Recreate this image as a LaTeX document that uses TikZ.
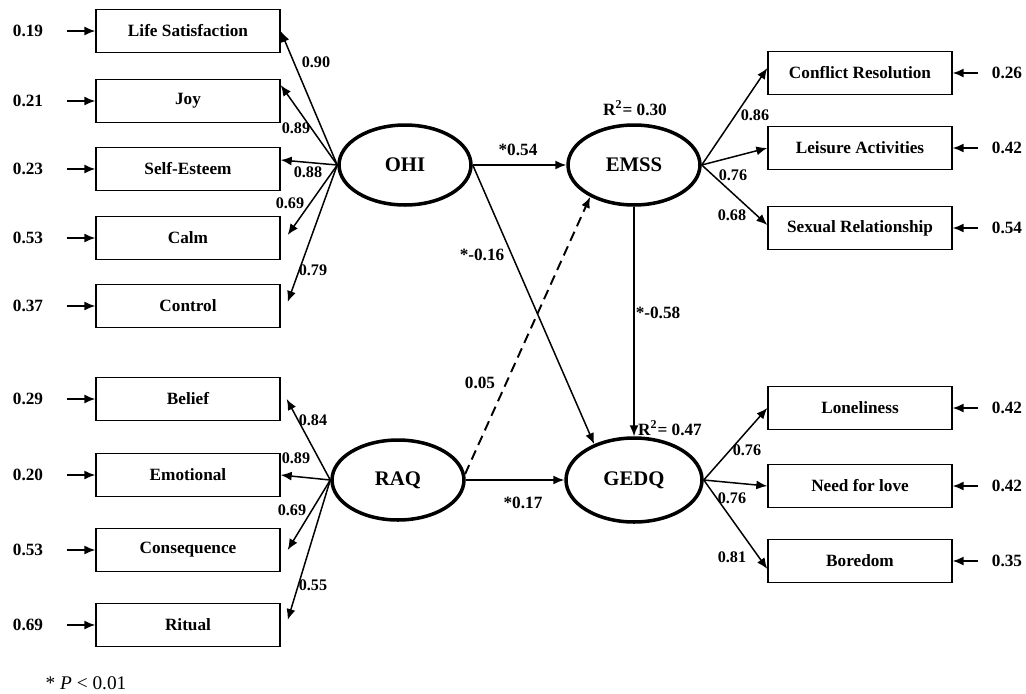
\documentclass[tikz,border=0pt]{standalone}
\usepackage{fontspec}
\setmainfont{Liberation Serif}
\usetikzlibrary{shapes.geometric,arrows.meta}

\begin{document}
\begin{tikzpicture}[x=0.02cm,y=-0.02cm,
	every node/.style={font=\bfseries\fontsize{9.8}{11}\selectfont},
	item/.style={draw,line width=0.8pt,minimum width=3.68cm,minimum height=0.85cm,inner sep=0pt},
	factor/.style={draw,ellipse,line width=2pt,minimum width=2.64cm,minimum height=1.6cm,inner sep=0pt,font=\bfseries\fontsize{11.8}{13}\selectfont},
	coef/.style={inner sep=0pt,font=\bfseries\fontsize{9.2}{10}\selectfont},
	err/.style={inner sep=0pt},
	load/.style={line width=0.85pt,-{Latex[length=0.22cm,width=0.18cm]}},
	errarrow/.style={load,shorten <=0.48cm},
	rerrarrow/.style={load,shorten <=0.28cm}]
	\useasboundingbox (0,0) rectangle (1026,693);
	% observed variables
	\node[item] (life) at (188,31) {Life Satisfaction};
	\node[item] (joy) at (188,101) {Joy};
	\node[item] (esteem) at (188,169) {Self-Esteem};
	\node[item] (calm) at (188,238) {Calm};
	\node[item] (control) at (188,306) {Control};
	\node[item] (belief) at (188,399) {Belief};
	\node[item] (emotional) at (188,475) {Emotional};
	\node[item] (consequence) at (188,550) {Consequence};
	\node[item] (ritual) at (188,625) {Ritual};
	\node[item] (conflict) at (860,73) {Conflict Resolution};
	\node[item] (leisure) at (860,148) {Leisure Activities};
	\node[item] (sexual) at (860,228) {Sexual Relationship};
	\node[item] (loneliness) at (860,408) {Loneliness};
	\node[item] (needlove) at (860,486) {Need for love};
	\node[item] (boredom) at (860,561) {Boredom};
	% latent variables
	\node[factor] (OHI) at (405,165) {OHI};
	\node[factor] (EMSS) at (634,165) {EMSS};
	\node[factor] (RAQ) at (398,480) {RAQ};
	\node[factor,minimum width=2.72cm,minimum height=1.68cm] (GEDQ) at (634,480) {GEDQ};
	% error terms
	\coordinate (lcol) at (28,0);
	\coordinate (rcol) at (1007,0);
	\foreach \v/\b in {0.19/life,0.21/joy,0.23/esteem,0.53/calm,0.37/control,0.29/belief,0.20/emotional,0.53/consequence,0.69/ritual}
	{
		\node[err] (e-\b) at (lcol |- \b) {\v};
		\draw[errarrow] (e-\b) -- (\b);
	}
	\foreach \v/\b in {0.26/conflict,0.42/leisure,0.54/sexual,0.42/loneliness,0.42/needlove,0.35/boredom}
	{
		\node[err] (e-\b) at (rcol |- \b) {\v};
		\draw[rerrarrow] (e-\b) -- (\b);
	}
	% loadings
	\draw[load] (OHI.west) -- (life.east);
	\draw[load] (OHI.west) -- ([yshift=0.32cm]joy.east);
	\draw[load] (OHI.west) -- ([yshift=0.18cm]esteem.east);
	\draw[load] (OHI.west) -- ([shift={(0.14cm,0.06cm)}]calm.east);
	\draw[load] (OHI.west) -- ([shift={(0.14cm,0.08cm)}]control.east);
	\draw[load] (RAQ.west) -- ([xshift=0.12cm]belief.east);
	\draw[load] (RAQ.west) -- (emotional.east);
	\draw[load] (RAQ.west) -- ([xshift=0.14cm]consequence.east);
	\draw[load] (RAQ.west) -- ([shift={(0.14cm,0.1cm)}]ritual.east);
	\draw[load] (EMSS.east) -- ([yshift=0.1cm]conflict.west);
	\draw[load] (EMSS.east) -- (leisure.west);
	\draw[load] (EMSS.east) -- ([yshift=0.06cm]sexual.west);
	\draw[load] (GEDQ.east) -- (loneliness.west);
	\draw[load] (GEDQ.east) -- (needlove.west);
	\draw[load] (GEDQ.east) -- ([yshift=-0.16cm]boredom.west);
	\node[coef] (l-life) at (316,62) {0.90};
	\node[coef] (l-joy) at (296,128) {0.89};
	\node[coef] (l-esteem) at (308,172) {0.88};
	\node[coef] (l-calm) at (290,203) {0.69};
	\node[coef] (l-control) at (313,270) {0.79};
	\node[coef] (l-belief) at (313,420) {0.84};
	\node[coef] (l-emotional) at (296,458) {0.89};
	\node[coef] (l-consequence) at (292,510) {0.69};
	\node[coef] (l-ritual) at (313,585) {0.55};
	\node[coef] (l-conflict) at (755,115) {0.86};
	\node[coef] (l-leisure) at (733,175) {0.76};
	\node[coef] (l-sexual) at (732,215) {0.68};
	\node[coef] (l-loneliness) at (747,450) {0.76};
	\node[coef] (l-needlove) at (732,498) {0.76};
	\node[coef] (l-boredom) at (732,557) {0.81};
	% structural paths
	\draw[load] (OHI) -- (EMSS);
	\draw[load] (OHI.east) -- (GEDQ.138);
	\draw[load,line width=1.1pt,dash pattern=on 0.2cm off 0.12cm] (RAQ.5) -- (EMSS.216);
	\draw[load] (EMSS) -- (GEDQ);
	\draw[load] (RAQ) -- (GEDQ);
	\node[coef,font=\bfseries\fontsize{9.8}{11}\selectfont] (p1) at (518,150) {*0.54};
	\node[coef,font=\bfseries\fontsize{9.8}{11}\selectfont] (p2) at (482,255) {*-0.16};
	\node[coef,font=\bfseries\fontsize{9.8}{11}\selectfont] (p3) at (480,383) {0.05};
	\node[coef,font=\bfseries\fontsize{9.8}{11}\selectfont] (p4) at (658,313) {*-0.58};
	\node[coef,font=\bfseries\fontsize{9.8}{11}\selectfont] (p5) at (523,503) {*0.17};
	\node[coef,font=\bfseries\fontsize{9.8}{11}\selectfont] (r-EMSS) at (635,108) {R\textsuperscript{2}= 0.30};
	\node[coef,font=\bfseries\fontsize{9.8}{11}\selectfont] (r-GEDQ) at (670,428) {R\textsuperscript{2}= 0.47};
	\node[inner sep=0pt,font=\fontsize{11}{13}\selectfont] (note) at (86,683) {* \textit{P} < 0.01};
\end{tikzpicture}
\end{document}
